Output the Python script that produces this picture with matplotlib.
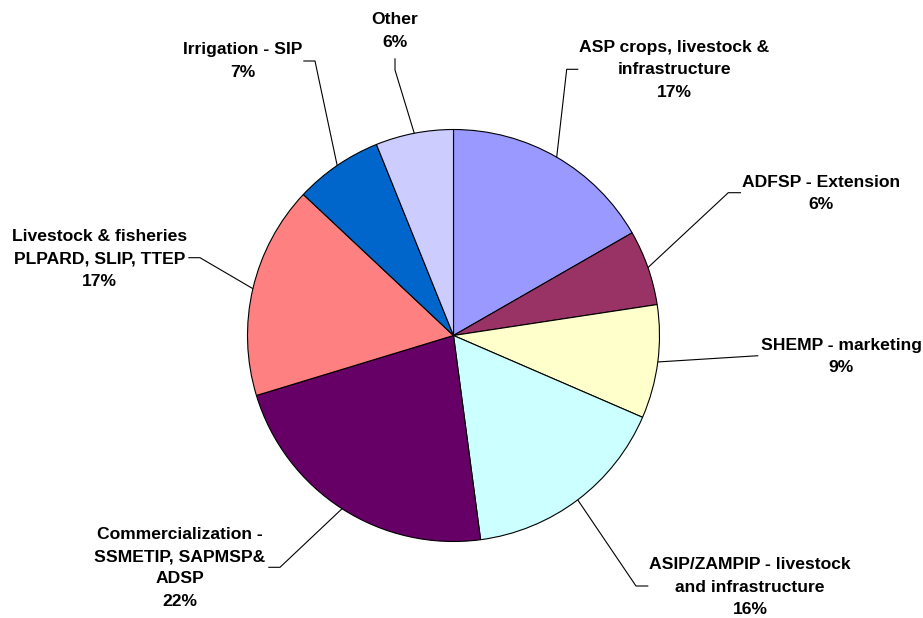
import numpy as np
import matplotlib
matplotlib.use("Agg")
import matplotlib.pyplot as plt

# ---- data ----
categories = [
    "ASP crops, livestock &\ninfrastructure",
    "ADFSP - Extension",
    "SHEMP - marketing",
    "ASIP/ZAMPIP - livestock\nand infrastructure",
    "Commercialization -\nSSMETIP, SAPMSP&\nADSP",
    "Livestock & fisheries\nPLPARD, SLIP, TTEP",
    "Irrigation - SIP",
    "Other",
]
shares = [16.7, 5.9, 8.9, 16.4, 22.4, 16.7, 6.9, 6.1]
colors = ["#9999FF", "#993366", "#FFFFCC", "#CCFFFF",
          "#660066", "#FF8080", "#0066CC", "#CCCCFF"]

# ---- layout (pixel positions, screen coordinates) ----
W, H = 923, 618
center = (453.5, 335.5)
radius = 206
label_pos = [(674.5, 70), (821.3, 193.3), (841.3, 356.2), (750, 587),
             (180, 567.7), (99.5, 259), (242.5, 61), (395, 31)]
leader_pts = [
    [(578.3, 69.3), (566.7, 69.3)],
    [(741, 192.7), (728.3, 192.7)],
    [(758.3, 355.7)],
    [(648.3, 586), (636, 586)],
    [(268.3, 567.3), (280, 567.3)],
    [(188.3, 257.7), (200, 257.7)],
    [(303.3, 61), (315, 61)],
    [(395, 58.3), (395, 70)],
]

plt.rcParams['font.family'] = ['Liberation Sans', 'DejaVu Sans']

fig = plt.figure(figsize=(W / 100, H / 100), dpi=100)
ax = fig.add_axes([0, 0, 1, 1])

wedges, _ = ax.pie(shares, colors=colors, startangle=-90, counterclock=True,
                   center=center, radius=radius,
                   wedgeprops=dict(edgecolor="black", linewidth=0.8))
ax.set_xlim(0, W)
ax.set_ylim(H, 0)
ax.set_aspect('equal')
ax.axis('off')

total = sum(shares)
for w, cat, val, pos, pts in zip(wedges, categories, shares, label_pos, leader_pts):
    tm = np.deg2rad((w.theta1 + w.theta2) / 2)
    ex = center[0] + radius * np.cos(tm)
    ey = center[1] + radius * np.sin(tm)
    xs = [p[0] for p in pts] + [ex]
    ys = [p[1] for p in pts] + [ey]
    ax.plot(xs, ys, color="black", lw=0.8, solid_capstyle='butt')
    pct = int(round(val / total * 100))
    ax.text(pos[0], pos[1], f"{cat}\n{pct}%", ha='center', va='center',
            multialignment='center', fontsize=12.6, fontweight='bold',
            linespacing=1.6, color='black')

fig.savefig("out.png", dpi=100, facecolor='white')
